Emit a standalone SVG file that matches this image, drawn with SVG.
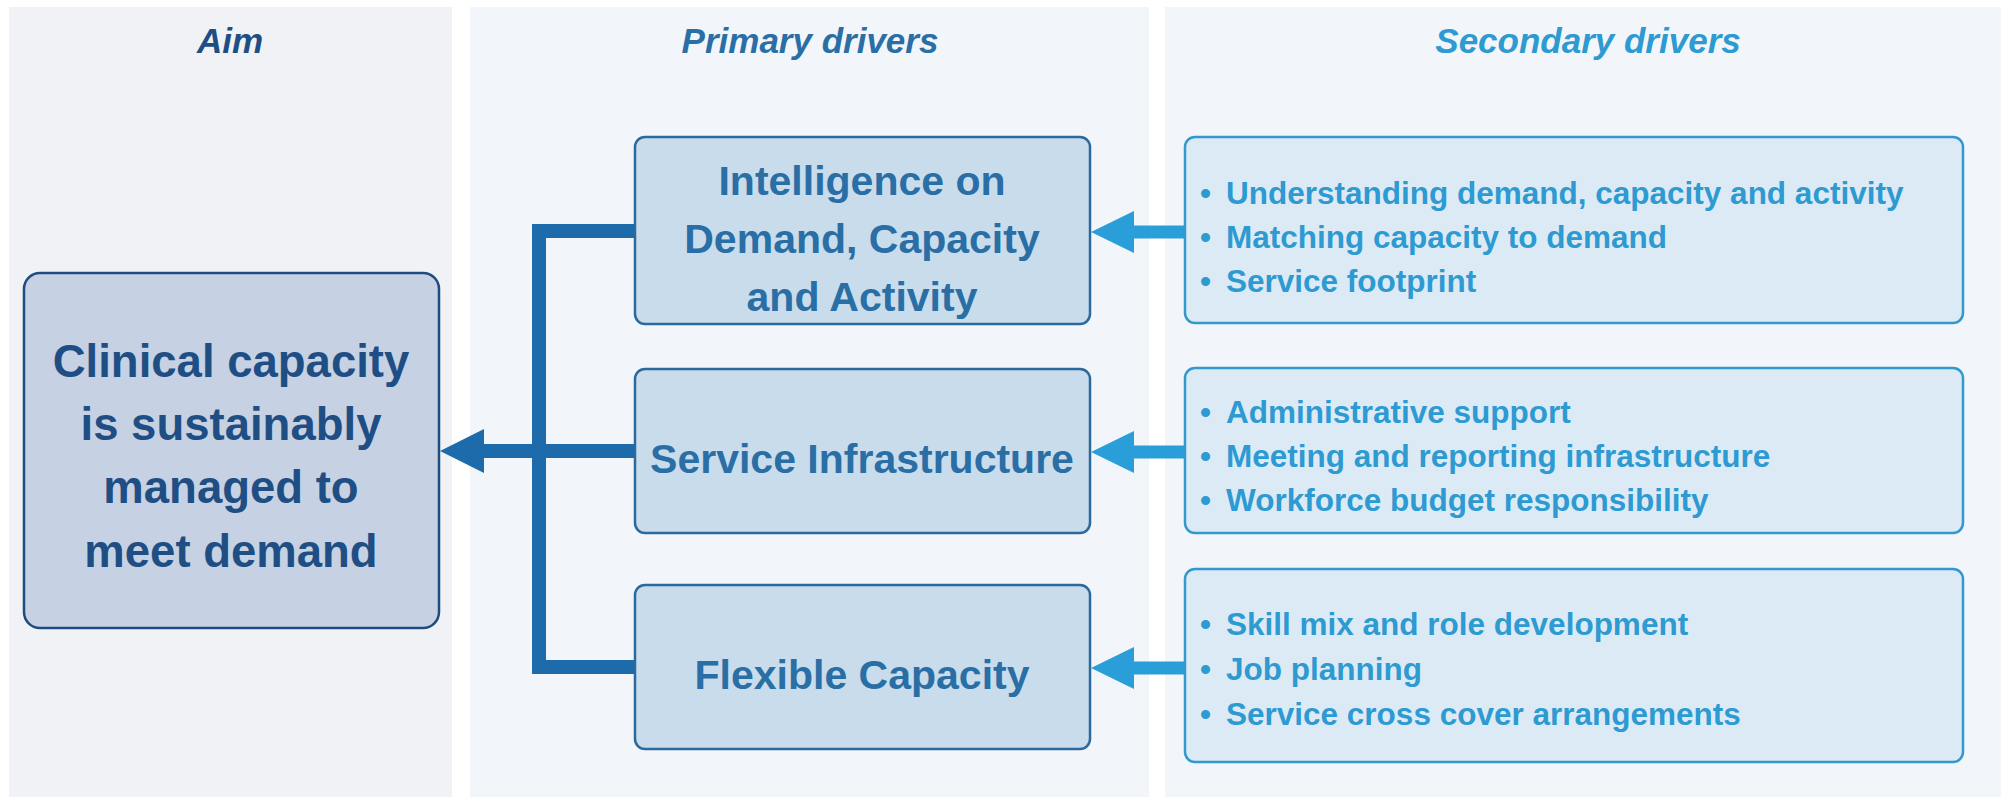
<svg xmlns="http://www.w3.org/2000/svg" width="2011" height="800" viewBox="0 0 2011 800">
  <style>
    .col { stroke: none; }
    .hdr { font-family: "Liberation Sans", Arial, sans-serif; font-size: 35px; font-weight: bold; font-style: italic; text-anchor: middle; }
    .aim-box { fill: #C6D2E3; stroke: #1E4C80; stroke-width: 2.5; }
    .aim-txt { font-family: "Liberation Sans", Arial, sans-serif; font-size: 45.5px; font-weight: bold; fill: #1F4E84; text-anchor: middle; }
    .pri-box { fill: #C8DCEB; stroke: #2C6A9E; stroke-width: 2.5; }
    .pri-txt { font-family: "Liberation Sans", Arial, sans-serif; font-size: 41px; font-weight: bold; fill: #2A6EA6; text-anchor: middle; }
    .sec-box { fill: #DCEAF6; stroke: #3299CF; stroke-width: 2.5; }
    .sec-txt { font-family: "Liberation Sans", Arial, sans-serif; font-size: 31.5px; font-weight: bold; fill: #2E9AD2; }
    .link-main { fill: none; stroke: #1D6BAA; stroke-width: 14; stroke-linejoin: miter; }
    .link-sec { fill: none; stroke: #2A9ED8; stroke-width: 13; }
  </style>
  <defs>
    <marker id="head-main" viewBox="0 0 44 44" refX="0" refY="22" markerWidth="44" markerHeight="44" markerUnits="userSpaceOnUse" orient="auto">
      <path d="M0,0 L44,22 L0,44 Z" fill="#1D6BAA"/>
    </marker>
    <marker id="head-sec" viewBox="0 0 43 42" refX="0" refY="21" markerWidth="43" markerHeight="42" markerUnits="userSpaceOnUse" orient="auto">
      <path d="M0,0 L43,21 L0,42 Z" fill="#2A9ED8"/>
    </marker>
  </defs>

  <rect width="2011" height="800" fill="#FFFFFF"/>

  <!-- column panels -->
  <g id="columns">
    <rect class="col" x="9" y="7" width="443" height="790" fill="#F0F2F6"/>
    <rect class="col" x="470" y="7" width="679" height="790" fill="#F2F5F9"/>
    <rect class="col" x="1165" y="7" width="836" height="790" fill="#F2F6FA"/>
  </g>

  <!-- column headings -->
  <g id="headings">
    <text class="hdr" x="230" y="53" fill="#1F4E84">Aim</text>
    <text class="hdr" x="810" y="53" fill="#2A6EA6">Primary drivers</text>
    <text class="hdr" x="1588" y="53" fill="#2E9AD2">Secondary drivers</text>
  </g>

  <!-- connectors -->
  <g id="connectors">
    <polyline class="link-main" points="635,231 539,231 539,667 635,667"/>
    <line class="link-main" x1="635" y1="451" x2="484" y2="451" marker-end="url(#head-main)"/>
    <line class="link-sec" x1="1186" y1="232" x2="1134" y2="232" marker-end="url(#head-sec)"/>
    <line class="link-sec" x1="1186" y1="452" x2="1134" y2="452" marker-end="url(#head-sec)"/>
    <line class="link-sec" x1="1186" y1="668" x2="1134" y2="668" marker-end="url(#head-sec)"/>
  </g>

  <!-- aim -->
  <g id="aim">
    <rect class="aim-box" x="24" y="273" width="415" height="355" rx="16"/>
    <text class="aim-txt" x="231" y="377">Clinical capacity</text>
    <text class="aim-txt" x="231" y="440">is sustainably</text>
    <text class="aim-txt" x="231" y="503">managed to</text>
    <text class="aim-txt" x="231" y="567">meet demand</text>
  </g>

  <!-- primary drivers -->
  <g id="primary-intelligence">
    <rect class="pri-box" x="635" y="137" width="455" height="187" rx="10"/>
    <text class="pri-txt" x="862" y="195">Intelligence on</text>
    <text class="pri-txt" x="862" y="253">Demand, Capacity</text>
    <text class="pri-txt" x="862" y="311">and Activity</text>
  </g>
  <g id="primary-infrastructure">
    <rect class="pri-box" x="635" y="369" width="455" height="164" rx="10"/>
    <text class="pri-txt" x="862" y="473">Service Infrastructure</text>
  </g>
  <g id="primary-flexible">
    <rect class="pri-box" x="635" y="585" width="455" height="164" rx="10"/>
    <text class="pri-txt" x="862" y="689">Flexible Capacity</text>
  </g>

  <!-- secondary drivers -->
  <g id="secondary-intelligence">
    <rect class="sec-box" x="1185" y="137" width="778" height="186" rx="10"/>
    <text class="sec-txt" x="1200" y="204">•</text>
    <text class="sec-txt" x="1226" y="204">Understanding demand, capacity and activity</text>
    <text class="sec-txt" x="1200" y="248">•</text>
    <text class="sec-txt" x="1226" y="248">Matching capacity to demand</text>
    <text class="sec-txt" x="1200" y="292">•</text>
    <text class="sec-txt" x="1226" y="292">Service footprint</text>
  </g>
  <g id="secondary-infrastructure">
    <rect class="sec-box" x="1185" y="368" width="778" height="165" rx="10"/>
    <text class="sec-txt" x="1200" y="423">•</text>
    <text class="sec-txt" x="1226" y="423">Administrative support</text>
    <text class="sec-txt" x="1200" y="467">•</text>
    <text class="sec-txt" x="1226" y="467">Meeting and reporting infrastructure</text>
    <text class="sec-txt" x="1200" y="511">•</text>
    <text class="sec-txt" x="1226" y="511">Workforce budget responsibility</text>
  </g>
  <g id="secondary-flexible">
    <rect class="sec-box" x="1185" y="569" width="778" height="193" rx="10"/>
    <text class="sec-txt" x="1200" y="635">•</text>
    <text class="sec-txt" x="1226" y="635">Skill mix and role development</text>
    <text class="sec-txt" x="1200" y="680">•</text>
    <text class="sec-txt" x="1226" y="680">Job planning</text>
    <text class="sec-txt" x="1200" y="725">•</text>
    <text class="sec-txt" x="1226" y="725">Service cross cover arrangements</text>
  </g>
</svg>
